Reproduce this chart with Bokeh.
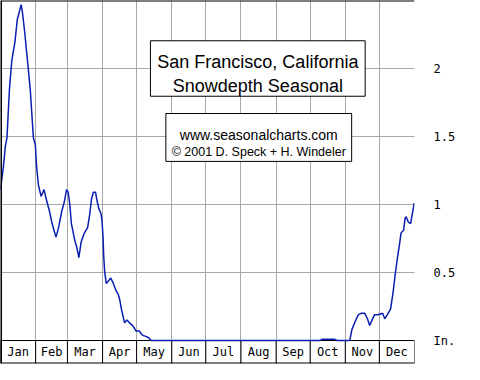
from bokeh.plotting import figure
from bokeh.models import Range1d, FixedTicker, Span, BoxAnnotation, Label
from bokeh.core.properties import value
from bokeh.embed import file_html
from bokeh.resources import INLINE

# ---- data (day of year, snow depth in inches) ----
days = [0, 2.6, 4.3, 5.7, 7.9, 10, 12.8, 14.8, 17, 18.2, 19.4, 21.3, 24.1, 26.2,
        27.9, 29, 30.7, 31.8, 33.5, 35.8, 38.4, 40.3, 43.2, 45.5, 48.9, 51.2, 54,
        56.3, 58.2, 59.7, 61.1, 62.5, 65.4, 67.4, 69.1, 71, 73.9, 76.8, 78.7, 80.2,
        81.9, 83.8, 85.3, 86.7, 88.7, 89.5, 90.4, 91, 91.8, 93.2, 95.3, 97.2, 99.5,
        101.7, 103.8, 105.1, 106.6, 108, 109.4, 111.5, 113.7, 116.6, 119.4, 122.2,
        125.1, 127.9, 130.7, 132.8, 200, 281.4, 284, 294.2, 296.8, 307.9, 309.8,
        312.7, 315.5, 318.4, 321.2, 323.5, 325.5, 327.5, 329.8, 332.6, 336.9, 338.8,
        341.1, 343.9, 346.2, 348.2, 350.2, 352, 353.1, 355.4, 356.7, 357.6, 359.6,
        361.6, 363, 363.9, 364.7]
snow = [1.11, 1.28, 1.43, 1.49, 1.85, 2.06, 2.2, 2.36, 2.43, 2.47, 2.41, 2.27, 2.03, 1.85,
        1.63, 1.49, 1.44, 1.28, 1.14, 1.06, 1.11, 1.04, 0.95, 0.86, 0.76, 0.83, 0.95,
        1.02, 1.11, 1.09, 1.0, 0.86, 0.74, 0.68, 0.61, 0.72, 0.79, 0.83, 0.93, 1.04,
        1.09, 1.09, 1.02, 0.97, 0.93, 0.88, 0.76, 0.62, 0.51, 0.42, 0.44, 0.46, 0.42,
        0.37, 0.34, 0.30, 0.23, 0.18, 0.13, 0.15, 0.13, 0.11, 0.07, 0.07,
        0.04, 0.03, 0.02, 0.0, 0.0, 0.0, 0.01, 0.01, 0.0, 0.0, 0.08,
        0.14, 0.19, 0.2, 0.2, 0.16, 0.11, 0.15, 0.19, 0.19, 0.2, 0.16,
        0.19, 0.23, 0.36, 0.5, 0.62, 0.72, 0.79, 0.81, 0.9, 0.91, 0.87,
        0.86, 0.93, 0.97, 1.01]

month_names = ["Jan", "Feb", "Mar", "Apr", "May", "Jun",
               "Jul", "Aug", "Sep", "Oct", "Nov", "Dec"]
month_bounds = [0, 31, 59, 90, 120, 151, 181, 212, 243, 273, 304, 334, 365]
y_tick_vals = [0, 0.5, 1, 1.5, 2]
y_tick_labels = ["In.", "0.5", "1", "1.5", "2"]

title_lines = ["San Francisco, California", "Snowdepth Seasonal"]
credit_lines = ["www.seasonalcharts.com", "\u00a9 2001 D. Speck + H. Windeler"]

# ---- figure ----
Y_BOX = -0.169   # depth of the month-label strip below zero
p = figure(width=464, height=364, output_backend="svg", toolbar_location=None,
           x_range=Range1d(0, 365), y_range=Range1d(Y_BOX, 2.5),
           x_axis_location=None, y_axis_location="right",
           min_border_left=0, min_border_top=0, min_border_right=50,
           min_border_bottom=1,
           outline_line_color=None,
           background_fill_color="white", border_fill_color="white")

grid_col = "#A8A8A8"
p.xgrid.ticker = FixedTicker(ticks=month_bounds)
p.ygrid.ticker = FixedTicker(ticks=y_tick_vals[1:])
p.xgrid.grid_line_color = grid_col
p.ygrid.grid_line_color = grid_col

# right axis
ya = p.yaxis[0]
ya.ticker = FixedTicker(ticks=y_tick_vals)
ya.major_label_overrides = {v: t for v, t in zip(y_tick_vals, y_tick_labels)}
ya.axis_line_color = None
ya.major_tick_line_color = None
ya.minor_tick_line_color = None
ya.major_label_standoff = 13
ya.major_label_text_font = "DejaVu Sans Mono"
ya.major_label_text_font_size = "12px"
ya.major_label_text_color = "black"

# month strip: top line, separators, bottom line, names
p.add_layout(Span(location=0, dimension="width", line_color="black",
                  line_width=1, level="underlay"))
p.segment(x0=month_bounds, y0=[Y_BOX] * len(month_bounds),
          x1=month_bounds, y1=[0] * len(month_bounds),
          line_color="black", line_width=1)
p.add_layout(Span(location=Y_BOX, dimension="width", line_color="black", line_width=2))
mids = [(a + b) / 2 for a, b in zip(month_bounds[:-1], month_bounds[1:])]
p.text(x=mids, y=[Y_BOX / 2] * len(mids), text=month_names,
       text_align="center", text_baseline="middle",
       text_font=value("DejaVu Sans Mono"), text_font_size="12px",
       text_color="black")

# outer borders
p.add_layout(Span(location=0, dimension="height", line_color="black", line_width=3))
p.add_layout(Span(location=2.5, dimension="width", line_color="black", line_width=2))

# data line
p.line(days, snow, line_color="#0A1EB0", line_width=1.5)

# title boxes
p.add_layout(BoxAnnotation(left=132.2, right=321.5, bottom=1.796, top=2.204,
                           fill_color="white", fill_alpha=1, line_color="black",
                           line_width=1, line_alpha=1))
p.add_layout(BoxAnnotation(left=145.8, right=309.6, bottom=1.317, top=1.669,
                           fill_color="white", fill_alpha=1, line_color="black",
                           line_width=1, line_alpha=1))
for txt, yy in zip(title_lines, [2.049, 1.873]):
    p.add_layout(Label(x=226.9, y=yy, text=txt, text_align="center",
                       text_baseline="alphabetic", text_font="Liberation Sans",
                       text_font_size="18px", text_color="black"))
for txt, yy, fs in zip(credit_lines, [1.514, 1.385], ["14px", "12.5px"]):
    p.add_layout(Label(x=227.7, y=yy, text=txt, text_align="center",
                       text_baseline="alphabetic", text_font="Liberation Sans",
                       text_font_size=fs, text_color="black"))

open("out.html", "w").write(file_html(p, INLINE))
